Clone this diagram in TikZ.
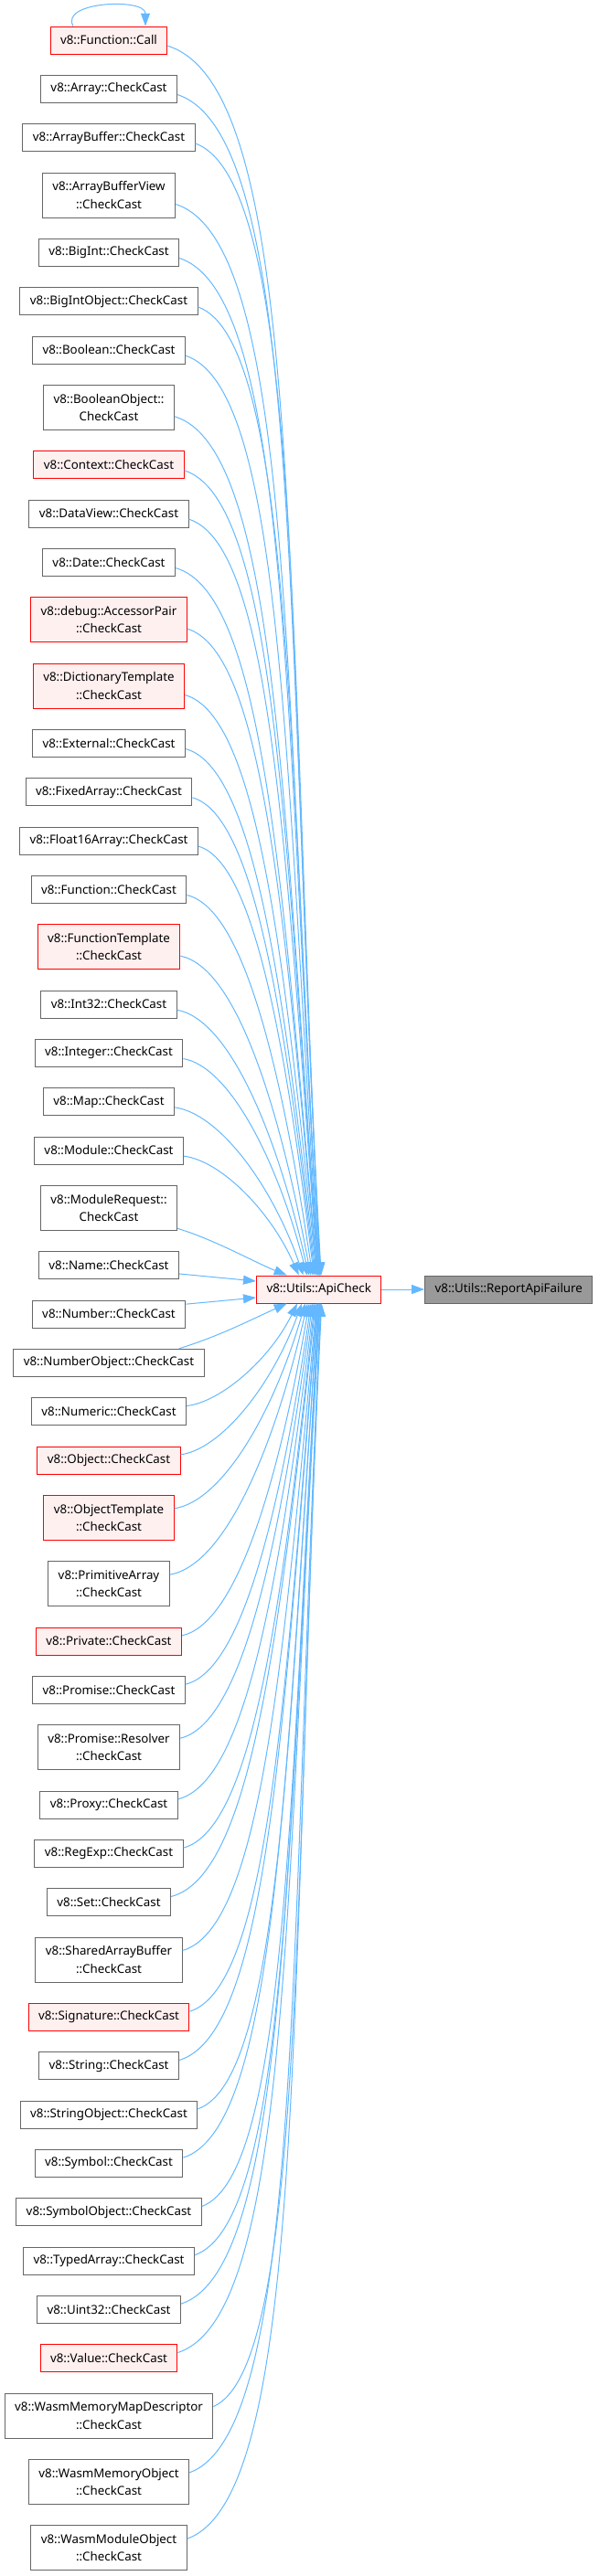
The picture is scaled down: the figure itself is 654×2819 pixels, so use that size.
\documentclass[tikz,border=0pt]{standalone}
\usepackage{fontspec}
\setmainfont{Noto Sans}
\usepackage{tikz}
\usetikzlibrary{arrows.meta}
\usetikzlibrary{calc}
\definecolor{edgeblue}{HTML}{63B8FF}
\definecolor{boxgrey}{HTML}{666666}
\definecolor{rootgrey}{HTML}{999999}
\definecolor{redline}{HTML}{FF0000}
\definecolor{redfill}{HTML}{FFF0F0}
\tikzset{fnbox/.style={draw=boxgrey,fill=white,line width=1pt,inner xsep=11pt,inner ysep=0pt,
                       align=center,font=\fontsize{13.33}{19.3}\selectfont},
         redbox/.style={fnbox,draw=redline,fill=redfill},
         rootbox/.style={fnbox,fill=rootgrey},
         oneline/.style={minimum height=30pt},
         twoline/.style={minimum height=49pt},
         arr/.style={draw=edgeblue,line width=1pt,-{Triangle[length=14pt,width=10pt]}},
  upcurve/.style={to path={let \p1=($(\tikztostart.south east)!0.3!(\tikztostart.north east)$),
      \p2=(\tikztotarget), \n1={\x2-\x1}, \n2={\y1-\y2} in
      (\p1) .. controls ($(\p1)+({(0.25+0.65*\n2/1350)*\n1*1pt},{-0.035*\n2*1pt})$)
      and ($(\p2)+({-0.25*\n1*1pt},{0.55*\n2*1pt})$) .. (\p2)}},
  downcurve/.style={to path={let \p1=($(\tikztostart.north east)!0.3!(\tikztostart.south east)$),
      \p2=(\tikztotarget), \n1={\x2-\x1}, \n2={\y2-\y1} in
      (\p1) .. controls ($(\p1)+({(0.25+0.65*\n2/1350)*\n1*1pt},{0.035*\n2*1pt})$)
      and ($(\p2)+({-0.25*\n1*1pt},{-0.55*\n2*1pt})$) .. (\p2)}}
         }

\begin{document}
\begin{tikzpicture}[x=1pt,y=-1pt]
        \useasboundingbox (0,0) rectangle (654,2819);
        % callers
        \node[redbox,oneline] (call) at (119,44) {v8::Function::Call};
        \node[fnbox,oneline] (array) at (119,97.33) {v8::Array::CheckCast};
        \node[fnbox,oneline] (arraybuffer) at (119,150.67) {v8::ArrayBuffer::CheckCast};
        \node[fnbox,twoline] (arraybufferview) at (119,213.5) {v8::ArrayBufferView\\::CheckCast};
        \node[fnbox,oneline] (bigint) at (119,276.33) {v8::BigInt::CheckCast};
        \node[fnbox,oneline] (bigintobject) at (119,329.67) {v8::BigIntObject::CheckCast};
        \node[fnbox,oneline] (boolean) at (119,383) {v8::Boolean::CheckCast};
        \node[fnbox,twoline] (booleanobject) at (119,445.83) {v8::BooleanObject::\\CheckCast};
        \node[redbox,oneline] (context) at (119,508.67) {v8::Context::CheckCast};
        \node[fnbox,oneline] (dataview) at (119,562) {v8::DataView::CheckCast};
        \node[fnbox,oneline] (date) at (119,615.33) {v8::Date::CheckCast};
        \node[redbox,twoline] (accessorpair) at (119,678.17) {v8::debug::AccessorPair\\::CheckCast};
        \node[redbox,twoline] (dictionarytemplate) at (119,750.5) {v8::DictionaryTemplate\\::CheckCast};
        \node[fnbox,oneline] (external) at (119,813.33) {v8::External::CheckCast};
        \node[fnbox,oneline] (fixedarray) at (119,866.67) {v8::FixedArray::CheckCast};
        \node[fnbox,oneline] (float16array) at (119,920) {v8::Float16Array::CheckCast};
        \node[fnbox,oneline] (function) at (119,973.33) {v8::Function::CheckCast};
        \node[redbox,twoline] (functiontemplate) at (119,1036.17) {v8::FunctionTemplate\\::CheckCast};
        \node[fnbox,oneline] (int32) at (119,1099) {v8::Int32::CheckCast};
        \node[fnbox,oneline] (integer) at (119,1152.33) {v8::Integer::CheckCast};
        \node[fnbox,oneline] (map) at (119,1205.67) {v8::Map::CheckCast};
        \node[fnbox,oneline] (module) at (119,1259) {v8::Module::CheckCast};
        \node[fnbox,twoline] (modulerequest) at (119,1321.83) {v8::ModuleRequest::\\CheckCast};
        \node[fnbox,oneline] (name) at (119,1384.67) {v8::Name::CheckCast};
        \node[fnbox,oneline] (number) at (119,1438) {v8::Number::CheckCast};
        \node[fnbox,oneline] (numberobject) at (119,1491.33) {v8::NumberObject::CheckCast};
        \node[fnbox,oneline] (numeric) at (119,1544.67) {v8::Numeric::CheckCast};
        \node[redbox,oneline] (object) at (119,1598) {v8::Object::CheckCast};
        \node[redbox,twoline] (objecttemplate) at (119,1660.83) {v8::ObjectTemplate\\::CheckCast};
        \node[fnbox,twoline] (primitivearray) at (119,1733.17) {v8::PrimitiveArray\\::CheckCast};
        \node[redbox,oneline] (private) at (119,1796) {v8::Private::CheckCast};
        \node[fnbox,oneline] (promise) at (119,1849.33) {v8::Promise::CheckCast};
        \node[fnbox,twoline] (resolver) at (119,1912.17) {v8::Promise::Resolver\\::CheckCast};
        \node[fnbox,oneline] (proxy) at (119,1975) {v8::Proxy::CheckCast};
        \node[fnbox,oneline] (regexp) at (119,2028.33) {v8::RegExp::CheckCast};
        \node[fnbox,oneline] (set) at (119,2081.67) {v8::Set::CheckCast};
        \node[fnbox,twoline] (sharedarraybuffer) at (119,2144.5) {v8::SharedArrayBuffer\\::CheckCast};
        \node[redbox,oneline] (signature) at (119,2207.33) {v8::Signature::CheckCast};
        \node[fnbox,oneline] (string) at (119,2260.67) {v8::String::CheckCast};
        \node[fnbox,oneline] (stringobject) at (119,2314) {v8::StringObject::CheckCast};
        \node[fnbox,oneline] (symbol) at (119,2367.33) {v8::Symbol::CheckCast};
        \node[fnbox,oneline] (symbolobject) at (119,2420.67) {v8::SymbolObject::CheckCast};
        \node[fnbox,oneline] (typedarray) at (119,2474) {v8::TypedArray::CheckCast};
        \node[fnbox,oneline] (uint32) at (119,2527.33) {v8::Uint32::CheckCast};
        \node[redbox,oneline] (value) at (119,2580.67) {v8::Value::CheckCast};
        \node[fnbox,twoline] (mapdescriptor) at (119,2643.5) {v8::WasmMemoryMapDescriptor\\::CheckCast};
        \node[fnbox,twoline] (memoryobject) at (119,2715.83) {v8::WasmMemoryObject\\::CheckCast};
        \node[fnbox,twoline] (moduleobject) at (119,2788.17) {v8::WasmModuleObject\\::CheckCast};
        % callee
        \node[redbox,oneline] (api) at (348.7,1411) {v8::Utils::ApiCheck};
        \node[rootbox,oneline] (report) at (556.3,1411) {v8::Utils::ReportApiFailure};

        \draw[arr] ([xshift=-39pt]call.north) .. controls +(-15,-27) and +(0,-31) .. ([xshift=40pt]call.north);
        \draw[arr] (api) -- (report);

        % edges from above
        \draw[arr,upcurve] (call) to ([xshift=2.5pt]api.north);
        \draw[arr,upcurve] (array) to ([xshift=2pt]api.north);
        \draw[arr,upcurve] (arraybuffer) to ([xshift=1.5pt]api.north);
        \draw[arr,upcurve] (arraybufferview) to ([xshift=1pt]api.north);
        \draw[arr,upcurve] (bigint) to ([xshift=1pt]api.north);
        \draw[arr,upcurve] (bigintobject) to ([xshift=0.5pt]api.north);
        \draw[arr,upcurve] (boolean) to ([xshift=0pt]api.north);
        \draw[arr,upcurve] (booleanobject) to ([xshift=0pt]api.north);
        \draw[arr,upcurve] (context) to ([xshift=-0.5pt]api.north);
        \draw[arr,upcurve] (dataview) to ([xshift=-1pt]api.north);
        \draw[arr,upcurve] (date) to ([xshift=-1.5pt]api.north);
        \draw[arr,upcurve] (accessorpair) to ([xshift=-2pt]api.north);
        \draw[arr,upcurve] (dictionarytemplate) to ([xshift=-2.5pt]api.north);
        \draw[arr,upcurve] (external) to ([xshift=-3.5pt]api.north);
        \draw[arr,upcurve] (fixedarray) to ([xshift=-4.5pt]api.north);
        \draw[arr,upcurve] (float16array) to ([xshift=-5.5pt]api.north);
        \draw[arr,upcurve] (function) to ([xshift=-7pt]api.north);
        \draw[arr,upcurve] (functiontemplate) to ([xshift=-9pt]api.north);
        \draw[arr,upcurve] (int32) to ([xshift=-11pt]api.north);
        \draw[arr,upcurve] (integer) to ([xshift=-13pt]api.north);
        \draw[arr,upcurve] (map) to ([xshift=-17pt]api.north);
        \draw[arr,upcurve] (module) to ([xshift=-22pt]api.north);
        \draw[arr] ($(modulerequest.south east)!0.05!(modulerequest.north east)$) .. controls +(40,12) and +(-35,-14) .. ([xshift=-35pt]api.north);
        % edges from the side
        \draw[arr] ($(name.south east)!0.2!(name.north east)$) -- ([yshift=9pt]api.west);
        \draw[arr] ($(number.north east)!0.15!(number.south east)$) -- ([yshift=-9pt]api.west);
        % edges from below
        \draw[arr] ([xshift=-28pt]numberobject.north east) .. controls +(45,-14) and +(-40,18) .. ([xshift=-35pt]api.south);
        \draw[arr,downcurve] (numeric) to ([xshift=-23.7pt]api.south);
        \draw[arr,downcurve] (object) to ([xshift=-18.7pt]api.south);
        \draw[arr,downcurve] (objecttemplate) to ([xshift=-15pt]api.south);
        \draw[arr,downcurve] (primitivearray) to ([xshift=-12.5pt]api.south);
        \draw[arr,downcurve] (private) to ([xshift=-10.5pt]api.south);
        \draw[arr,downcurve] (promise) to ([xshift=-8.5pt]api.south);
        \draw[arr,downcurve] (resolver) to ([xshift=-7pt]api.south);
        \draw[arr,downcurve] (proxy) to ([xshift=-5.5pt]api.south);
        \draw[arr,downcurve] (regexp) to ([xshift=-4.5pt]api.south);
        \draw[arr,downcurve] (set) to ([xshift=-3.5pt]api.south);
        \draw[arr,downcurve] (sharedarraybuffer) to ([xshift=-2.5pt]api.south);
        \draw[arr,downcurve] (signature) to ([xshift=-2pt]api.south);
        \draw[arr,downcurve] (string) to ([xshift=-1.5pt]api.south);
        \draw[arr,downcurve] (stringobject) to ([xshift=-1pt]api.south);
        \draw[arr,downcurve] (symbol) to ([xshift=-0.5pt]api.south);
        \draw[arr,downcurve] (symbolobject) to ([xshift=0pt]api.south);
        \draw[arr,downcurve] (typedarray) to ([xshift=0.5pt]api.south);
        \draw[arr,downcurve] (uint32) to ([xshift=1pt]api.south);
        \draw[arr,downcurve] (value) to ([xshift=1.5pt]api.south);
        \draw[arr,downcurve] (mapdescriptor) to ([xshift=2pt]api.south);
        \draw[arr,downcurve] (memoryobject) to ([xshift=2.5pt]api.south);
        \draw[arr,downcurve] (moduleobject) to ([xshift=3pt]api.south);
\end{tikzpicture}
\end{document}
